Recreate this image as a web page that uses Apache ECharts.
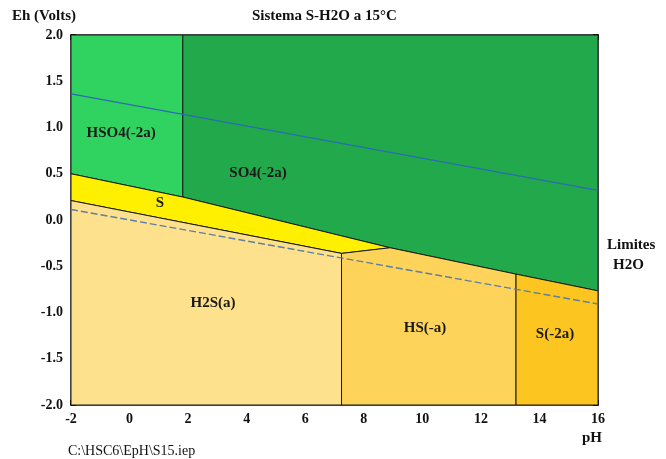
<!DOCTYPE html>
<html><head><meta charset="utf-8">
<script src="https://cdn.jsdelivr.net/npm/echarts@6/dist/echarts.min.js"></script>
<style>html,body{margin:0;padding:0;background:#fff}#c{width:666px;height:459px}</style>
</head><body><div id="c"></div>
<script>
// ---- data ----
const xTicks = [-2, 0, 2, 4, 6, 8, 10, 12, 14, 16];
const yTicks = [-2.0, -1.5, -1.0, -0.5, 0.0, 0.5, 1.0, 1.5, 2.0];
const regionNames = ['HSO4(-2a)', 'SO4(-2a)', 'S', 'H2S(a)', 'HS(-a)', 'S(-2a)'];
const regionPolygons = [
  [[-2, 2], [1.82, 2], [1.82, 0.248], [-2, 0.50]],
  [[1.82, 2], [16, 2], [16, -0.766], [13.2, -0.585], [8.9, -0.30], [1.82, 0.248]],
  [[-2, 0.50], [1.82, 0.248], [8.9, -0.30], [7.24, -0.361], [-2, 0.21]],
  [[-2, 0.21], [7.24, -0.361], [7.24, -2], [-2, -2]],
  [[7.24, -0.361], [8.9, -0.30], [13.2, -0.585], [13.2, -2], [7.24, -2]],
  [[13.2, -0.585], [16, -0.766], [16, -2], [13.2, -2]]
];
const labelAnchors = [[-0.29, 0.94], [4.39, 0.505], [1.04, 0.18], [2.85, -0.90], [10.09, -1.17], [14.53, -1.23]];
const waterUpper = [[-2, 1.364], [16, 0.320]];
const waterLower = [[-2, 0.114], [16, -0.908]];

// ---- styles ----
const regionColors = ['#30d35f', '#22a94b', '#fff000', '#fee18d', '#fdd35a', '#fdc51f'];
const serif = '"Liberation Serif", "DejaVu Serif", serif';

const chart = echarts.init(document.getElementById('c'), null, {renderer: 'canvas'});
const axisBase = {
  type: 'value', splitLine: {show: false},
  axisLine: {show: true, onZero: false, lineStyle: {color: '#000', width: 1.5}},
  axisTick: {show: true, inside: true, length: 5, lineStyle: {color: '#000', width: 1.5}}
};
chart.setOption({
  animation: false,
  backgroundColor: '#fff',
  grid: {left: 71, right: 68, top: 35, bottom: 54},
  xAxis: [
    Object.assign({}, axisBase, {min: -2, max: 16, interval: 1, position: 'bottom',
      axisLabel: {fontFamily: serif, fontWeight: 'bold', fontSize: 14, color: '#111', margin: 7,
        formatter: v => (xTicks.indexOf(v) >= 0 ? String(v) : '')}}),
    Object.assign({}, axisBase, {min: -2, max: 16, interval: 1, position: 'top', axisLabel: {show: false}})
  ],
  yAxis: [
    Object.assign({}, axisBase, {min: -2, max: 2, interval: 0.5, position: 'left',
      axisLabel: {fontFamily: serif, fontWeight: 'bold', fontSize: 14, color: '#111', margin: 8,
        formatter: v => (yTicks.some(t => Math.abs(t - v) < 1e-9) ? v.toFixed(1) : '')}}),
    Object.assign({}, axisBase, {min: -2, max: 2, interval: 0.5, position: 'right', axisLabel: {show: false}})
  ],
  series: [
    {
      type: 'custom', coordinateSystem: 'cartesian2d', xAxisIndex: 0, yAxisIndex: 0,
      data: regionNames.map((n, i) => [labelAnchors[i][0], labelAnchors[i][1]]),
      clip: true, z: 1,
      renderItem: function (params, api) {
        const i = params.dataIndex;
        const pts = regionPolygons[i].map(p => api.coord(p));
        const c = api.coord(labelAnchors[i]);
        return {
          type: 'group',
          children: [
            {type: 'polygon', shape: {points: pts},
              style: {fill: regionColors[i], stroke: '#1a1a1a', lineWidth: 1}},
            {type: 'text', z2: 10, style: {x: c[0], y: c[1], text: regionNames[i], fill: '#1a1a1a',
              font: 'bold 15px ' + serif, align: 'center', verticalAlign: 'middle'}}
          ]
        };
      }
    },
    {type: 'line', data: waterUpper, symbol: 'none', z: 3,
      lineStyle: {color: '#2b6cb5', width: 1.2}},
    {type: 'line', data: waterLower, symbol: 'none', z: 3,
      lineStyle: {color: '#5f7f9f', width: 1.4, type: [7, 3]}}
  ],
  graphic: [
    {type: 'text', left: 252, top: 9, style: {text: 'Sistema S-H2O a 15°C', font: 'bold 15px ' + serif, fill: '#111'}},
    {type: 'text', left: 12, top: 9, style: {text: 'Eh (Volts)', font: 'bold 15px ' + serif, fill: '#111'}},
    {type: 'text', left: 607, top: 238, style: {text: 'Limites', font: 'bold 15px ' + serif, fill: '#111'}},
    {type: 'text', left: 613, top: 258, style: {text: 'H2O', font: 'bold 15px ' + serif, fill: '#111'}},
    {type: 'text', left: 582, top: 431, style: {text: 'pH', font: 'bold 15px ' + serif, fill: '#111'}},
    {type: 'text', left: 68, top: 444, style: {text: 'C:\\HSC6\\EpH\\S15.iep', font: '14px ' + serif, fill: '#111'}}
  ]
});
</script></body></html>
